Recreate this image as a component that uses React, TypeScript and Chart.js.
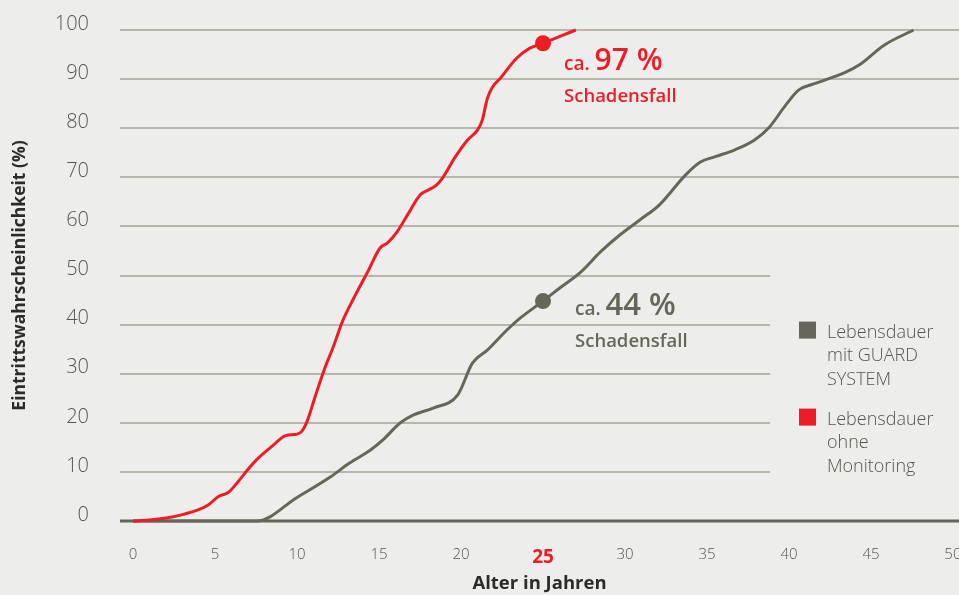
import React, { useEffect, useRef } from "react";
import { Chart, registerables } from "chart.js";
Chart.register(...registerables);

// ---- data ----
const redAges = [0, 1, 2, 3, 4, 4.6, 5.2, 5.8, 6.4, 7, 7.6, 8.5, 9.3, 10, 10.3, 10.6, 11.1, 11.7, 12.2, 12.8, 13.4, 14.3, 15.06, 15.5, 16.1, 16.8, 17.5, 18.0, 18.5, 18.9, 19.6, 20.4, 21.0, 21.3, 21.6, 21.9, 22.4, 23.4, 24.2, 25, 27];
const redValues = [0, 0.2, 0.6, 1.3, 2.3, 3.3, 5, 5.8, 8, 10.5, 12.7, 15.3, 17.4, 17.7, 18.3, 20.2, 25.3, 31.2, 35.4, 40.9, 45, 50.7, 55.6, 56.6, 58.9, 62.7, 66.4, 67.4, 68.4, 70, 73.9, 77.6, 79.6, 81.7, 86, 88.3, 90.2, 94.3, 96.3, 97.3, 100];
const grayAges = [0, 7.55, 10, 12, 13.2, 14.5, 15.2, 16.3, 17.1, 18.3, 19.8, 20.7, 21.6, 22.8, 23.6, 25, 26, 27.3, 28.5, 29.7, 30.9, 32.1, 33.7, 34.6, 35.5, 36.7, 37.9, 38.8, 39.8, 40.6, 41.4, 43.4, 44.3, 45.8, 47.6];
const grayValues = [0, 0, 4.8, 8.9, 11.8, 14.5, 16.4, 20, 21.6, 23, 25.7, 32.2, 34.8, 38.9, 41.3, 44.8, 47.4, 50.7, 54.8, 58.3, 61.3, 64.4, 70.5, 73.1, 74.2, 75.6, 77.6, 80.2, 84.7, 87.8, 88.9, 91.3, 92.9, 96.9, 100];
const markAge = 25;
const redMark = 97.3;
const grayMark = 44.8;
const redLabel = "97 %";
const grayLabel = "44 %";
const xTicks = [0, 5, 10, 15, 20, 25, 30, 35, 40, 45, 50];
const yTicks = [0, 10, 20, 30, 40, 50, 60, 70, 80, 90, 100];
const legendItems = [
  { lines: ["Lebensdauer", "mit GUARD", "SYSTEM"], color: "#66665a" },
  { lines: ["Lebensdauer", "ohne", "Monitoring"], color: "#ee1c25" },
];

const RED = "#ee1c25";
const GRAY = "#66665a";
const GRID = "#b6b6ad";
const BG = "#ededeb";
const TEXT = "#56564f";
const FONT = "'Open Sans', 'DejaVu Sans', sans-serif";

const overlay = {
  id: "overlay",
  beforeDatasetsDraw(chart: any) {
    const { ctx, chartArea, scales } = chart;
    const x = scales.x, y = scales.y;
    ctx.save();
    ctx.strokeStyle = GRID;
    ctx.lineWidth = 2;
    for (const v of yTicks) {
      if (v === 0) continue;
      const py = Math.round(y.getPixelForValue(v));
      const right = v >= 60 ? chartArea.right : x.getPixelForValue(38.85);
      ctx.beginPath();
      ctx.moveTo(chartArea.left, py);
      ctx.lineTo(right, py);
      ctx.stroke();
    }
    ctx.strokeStyle = GRAY;
    ctx.lineWidth = 3;
    const p0 = y.getPixelForValue(0);
    ctx.beginPath();
    ctx.moveTo(chartArea.left, p0);
    ctx.lineTo(chartArea.right, p0);
    ctx.stroke();
    ctx.restore();
  },
  afterDatasetsDraw(chart: any) {
    const { ctx, chartArea, scales } = chart;
    const x = scales.x, y = scales.y;
    ctx.save();
    ctx.textBaseline = "alphabetic";
    ctx.textAlign = "left";
    const drawNote = (val: number, big: string, color: string, dx: number, dy1: number, dy2: number, bigSize: number) => {
      const px = x.getPixelForValue(markAge);
      const py = y.getPixelForValue(val);
      ctx.fillStyle = color;
      ctx.font = `600 19px ${FONT}`;
      const tx = px + dx;
      ctx.fillText("ca.", tx, py + dy1);
      const w = ctx.measureText("ca. ").width;
      ctx.font = `600 ${bigSize}px ${FONT}`;
      ctx.fillText(big, tx + w, py + dy1);
      ctx.font = `600 18.5px ${FONT}`;
      ctx.fillText("Schadensfall", tx, py + dy2);
    };
    drawNote(redMark, redLabel, RED, 21, 27, 59, 30);
    drawNote(grayMark, grayLabel, GRAY, 32, 14, 46, 31);

    // legend
    const lx = chartArea.right - 160;
    let top = y.getPixelForValue(40) - 3;
    ctx.font = `300 18px ${FONT}`;
    for (const item of legendItems) {
      ctx.fillStyle = item.color;
      ctx.fillRect(lx, top, 17, 17);
      ctx.fillStyle = TEXT;
      item.lines.forEach((ln, i) => ctx.fillText(ln, lx + 28, top + 16 + i * 23.5));
      top += 87;
    }
    ctx.restore();
  },
};

export default function App() {
  const ref = useRef<HTMLCanvasElement | null>(null);
  useEffect(() => {
    document.body.style.margin = "0";
    document.body.style.background = BG;
    const canvas = ref.current!;
    const chart = new Chart(canvas, {
      type: "line",
      data: {
        datasets: [
          {
            label: "Lebensdauer ohne Monitoring",
            data: redAges.map((a, i) => ({ x: a, y: redValues[i] })),
            borderColor: RED,
            borderWidth: 3,
            pointRadius: 0,
            cubicInterpolationMode: "monotone",
            clip: false,
          },
          {
            label: "Lebensdauer mit GUARD SYSTEM",
            data: grayAges.map((a, i) => ({ x: a, y: grayValues[i] })),
            borderColor: GRAY,
            borderWidth: 3,
            pointRadius: 0,
            cubicInterpolationMode: "monotone",
            clip: false,
          },
          {
            label: "mark red",
            data: [{ x: markAge, y: redMark }],
            showLine: false,
            pointRadius: 8,
            pointBackgroundColor: RED,
            pointBorderWidth: 0,
            clip: false,
          },
          {
            label: "mark gray",
            data: [{ x: markAge, y: grayMark }],
            showLine: false,
            pointRadius: 8,
            pointBackgroundColor: GRAY,
            pointBorderWidth: 0,
            clip: false,
          },
        ],
      } as any,
      options: {
        responsive: false,
        animation: false,
        layout: { autoPadding: false, padding: { top: 30, left: 0, right: 0, bottom: 0 } },
        plugins: { legend: { display: false }, tooltip: { enabled: false } },
        scales: {
          x: {
            type: "linear",
            min: -0.8,
            max: 50.37,
            afterBuildTicks: (s: any) => { s.ticks = xTicks.map((v) => ({ value: v })); },
            afterFit: (s: any) => { s.height = 74; s.paddingLeft = 0; s.paddingRight = 0; },
            grid: { display: false },
            border: { display: false },
            ticks: {
              autoSkip: false,
              maxRotation: 0,
              padding: 17,
              color: (c: any) => (c.tick && c.tick.value === 25 ? RED : TEXT),
              font: (c: any) =>
                c.tick && c.tick.value === 25
                  ? { family: FONT, size: 19, weight: "bold" }
                  : { family: FONT, size: 15, weight: "300" },
            },
            title: {
              display: true,
              text: "Alter in Jahren",
              color: "#2b2b28",
              font: { family: FONT, size: 18.5, weight: "bold" },
              padding: { top: 0, bottom: 0 },
            },
          },
          y: {
            type: "linear",
            min: 0,
            max: 100,
            afterBuildTicks: (s: any) => { s.ticks = yTicks.map((v) => ({ value: v })); },
            afterFit: (s: any) => { s.width = 120; s.paddingTop = 0; s.paddingBottom = 0; },
            grid: { display: false },
            border: { display: false },
            ticks: {
              padding: 23,
              labelOffset: -6,
              color: TEXT,
              font: { family: FONT, size: 20, weight: "300" },
            },
            title: {
              display: true,
              text: "Eintrittswahrscheinlichkeit (%)",
              color: "#2b2b28",
              font: { family: FONT, size: 17.5, weight: "bold" },
              padding: { top: 10, bottom: 0 },
            },
          },
        },
      },
      plugins: [overlay],
    });
    return () => chart.destroy();
  }, []);
  return (
    <div style={{ position: "absolute", left: 0, top: 0, width: 959, height: 595, background: BG }}>
      <canvas ref={ref} width={959} height={595} style={{ display: "block" }} />
    </div>
  );
}
